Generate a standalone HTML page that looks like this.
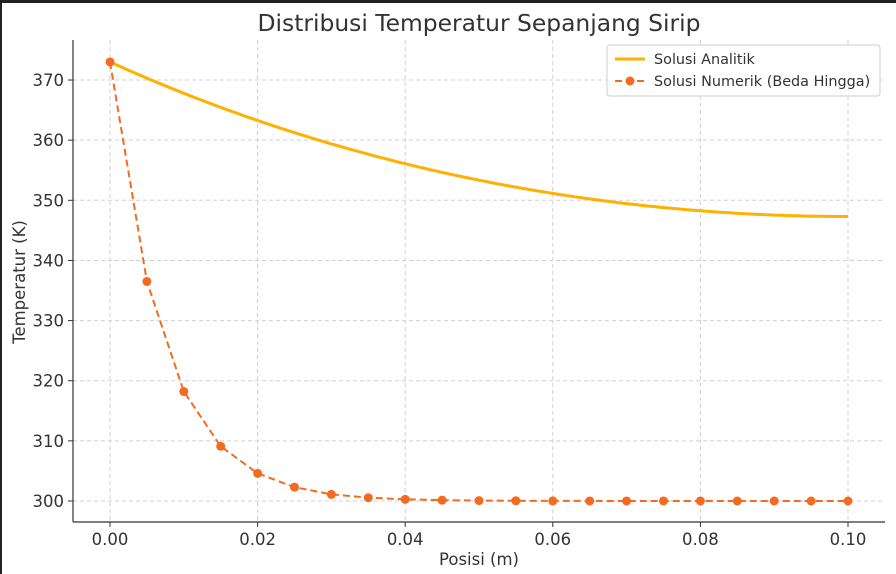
<!DOCTYPE html>
<html><head><meta charset="utf-8"><style>
body{margin:0;background:#fff;}
svg{display:block;font-family:"DejaVu Sans","Liberation Sans",sans-serif;}
</style></head><body>
<svg id="s" width="896" height="574" xmlns="http://www.w3.org/2000/svg">
<rect x="0" y="0" width="896" height="574" fill="#fff"/>
<rect x="0" y="0" width="896" height="3" fill="#222"/>
<rect x="0" y="0" width="2" height="574" fill="#222"/>
<text x="479" y="31" text-anchor="middle" font-size="23.4" fill="#333">Distribusi Temperatur Sepanjang Sirip</text>
<g id="grid" stroke="#d0d0d0" stroke-width="1" stroke-dasharray="4,3"></g>
<g id="ticks" font-size="16.5" fill="#333"></g>
<line x1="73" y1="40" x2="73" y2="522" stroke="#333" stroke-width="1.2"/>
<line x1="73" y1="522" x2="885" y2="522" stroke="#333" stroke-width="1.2"/>
<path id="ana" fill="none" stroke="#ffb000" stroke-width="3"/>
<path id="num" fill="none" stroke="#f26b21" stroke-width="2" stroke-dasharray="7,4"/>
<g id="dots" fill="#f26b21"></g>
<text x="479" y="565" text-anchor="middle" font-size="16.5" fill="#333">Posisi (m)</text>
<text transform="translate(25,282) rotate(-90)" text-anchor="middle" font-size="16.5" fill="#333">Temperatur (K)</text>
<rect x="607" y="45" width="273" height="51" rx="3" fill="#fff" stroke="#ccc"/>
<line x1="615" y1="59" x2="645" y2="59" stroke="#ffb000" stroke-width="3"/>
<text x="654" y="64" font-size="14.4" fill="#333">Solusi Analitik</text>
<line x1="615" y1="81" x2="645" y2="81" stroke="#f26b21" stroke-width="2" stroke-dasharray="7,4"/>
<circle cx="630" cy="81" r="4.5" fill="#f26b21"/>
<text x="654" y="86" font-size="14.4" fill="#333">Solusi Numerik (Beda Hingga)</text>
</svg>
<script>
var NS="http://www.w3.org/2000/svg";
function X(x){return 110+x*7380;}
function Y(t){return 501-(t-300)*6.014;}
function el(p,n,a,txt){var e=document.createElementNS(NS,n);for(var k in a)e.setAttribute(k,a[k]);if(txt)e.textContent=txt;document.getElementById(p).appendChild(e);}
for(var i=0;i<=5;i++){var x=X(i*0.02);el("grid","line",{x1:x,y1:40,x2:x,y2:522});
el("ticks","line",{x1:x,y1:522,x2:x,y2:527,stroke:"#333"});
el("ticks","text",{x:x,y:545,"text-anchor":"middle"},(i*0.02).toFixed(2));}
for(var t=300;t<=370;t+=10){var y=Y(t);el("grid","line",{x1:73,y1:y,x2:885,y2:y});
el("ticks","line",{x1:68,y1:y,x2:73,y2:y,stroke:"#333"});
el("ticks","text",{x:64,y:y+6,"text-anchor":"end"},t);}
var d="";for(var i=0;i<=200;i++){var x=i*0.0005;var T=300+73*Math.cosh(10*(0.1-x))/Math.cosh(1);d+=(i?"L":"M")+X(x).toFixed(1)+","+Y(T).toFixed(1);}
document.getElementById("ana").setAttribute("d",d);
var vals=[373,336.5,318.2,309.1,304.6,302.3,301.1,300.55,300.28,300.14,300.07];
for(var i=11;i<=20;i++)vals.push(300+0.07*Math.pow(0.5,i-10));
var d2="";vals.forEach(function(v,i){var x=X(i*0.005),y=Y(v);d2+=(i?"L":"M")+x+","+y;el("dots","circle",{cx:x,cy:y,r:4.5});});
document.getElementById("num").setAttribute("d",d2);
</script>
</body></html>
